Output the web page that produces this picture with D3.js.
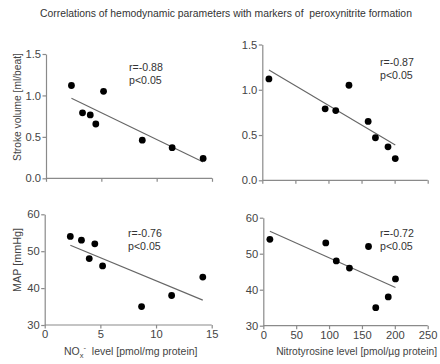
<!DOCTYPE html>
<html><head><meta charset="utf-8">
<script src="https://cdn.jsdelivr.net/npm/d3@7"></script>
<style>
body{margin:0;background:#fff;}
svg{display:block;font-family:"Liberation Sans",Arial,sans-serif;}
</style></head>
<body>
<svg id="c" width="440" height="364"></svg>
<script>
const noxLevel = [2.3, 3.3, 4.0, 4.5, 5.2, 8.7, 11.4, 14.2];
const strokeVolumeNox = [1.12, 0.79, 0.765, 0.655, 1.05, 0.46, 0.37, 0.24];
const mapNox = [54, 53, 48, 52, 46, 35, 38, 43];
const nitrotyrosine = [10, 95, 111, 131, 160, 171, 190, 201];
const strokeVolumeNt = [1.12, 0.79, 0.77, 1.05, 0.65, 0.47, 0.37, 0.24];
const mapNt = [54, 53, 48, 46, 52, 35, 38, 43];
const noxTicks = [0, 5, 10, 15];
const ntTicks = [0, 50, 100, 150, 200, 250];
const svTicks = [0.0, 0.5, 1.0, 1.5];
const mapTicks = [30, 40, 50, 60];
const stats = [["r=-0.88","p<0.05"],["r=-0.87","p<0.05"],["r=-0.76","p<0.05"],["r=-0.72","p<0.05"]];

const svg = d3.select("#c");
const axisCol = "#8a8a8a", textCol = "#444";

// scale font so a text fills a target width
function fitWidth(sel, target){
  const fs = +sel.attr("font-size");
  const w = sel.node().getComputedTextLength();
  if (w > 0) sel.attr("font-size", (fs * target / w).toFixed(2));
}

const title = svg.append("text").attr("x", 40).attr("y", 17)
  .attr("font-size", 10.3).attr("fill", "#333")
  .text("Correlations of hemodynamic parameters with markers of\u00a0 peroxynitrite formation");
fitWidth(title, 372);

const panels = [
  {xs: noxLevel, ys: strokeVolumeNox, xd:[0,15], yd:[0,1.5], xr:[46,212], yr:[178.3,54], xt:noxTicks, yt:svTicks, yfmt:d3.format(".1f"), showX:false, st:stats[0], sx:129, sy:71},
  {xs: nitrotyrosine, ys: strokeVolumeNt, xd:[0,250], yd:[0,1.5], xr:[262.3,427.7], yr:[180.3,44.5], xt:ntTicks, yt:svTicks, yfmt:d3.format(".1f"), showX:false, st:stats[1], sx:380, sy:66},
  {xs: noxLevel, ys: mapNox, xd:[0,15], yd:[30,60], xr:[44.7,211.7], yr:[325,214.3], xt:noxTicks, yt:mapTicks, yfmt:d3.format("d"), showX:true, st:stats[2], sx:128, sy:237},
  {xs: nitrotyrosine, ys: mapNt, xd:[0,250], yd:[30,60], xr:[263.3,427.7], yr:[325.7,217.7], xt:ntTicks, yt:mapTicks, yfmt:d3.format("d"), showX:true, st:stats[3], sx:380, sy:237}
];

function styleAxis(g){
  g.selectAll("path").attr("stroke", axisCol).attr("stroke-width", 1.2);
  g.selectAll("line").attr("stroke", axisCol).attr("stroke-width", 1.2);
  g.selectAll("text").attr("fill", textCol).attr("font-size", 11.2).attr("font-family","Liberation Sans, Arial, sans-serif");
}

panels.forEach(p => {
  const x = d3.scaleLinear().domain(p.xd).range(p.xr);
  const y = d3.scaleLinear().domain(p.yd).range(p.yr);
  const gx = svg.append("g").attr("transform", `translate(0,${p.yr[0]})`)
    .call(d3.axisBottom(x).tickValues(p.xt).tickSize(3.5).tickSizeOuter(0).tickPadding(2)
      .tickFormat(p.showX ? d3.format("d") : () => ""));
  styleAxis(gx);
  const gy = svg.append("g").attr("transform", `translate(${p.xr[0]},0)`)
    .call(d3.axisLeft(y).tickValues(p.yt).tickSize(3.5).tickSizeOuter(0).tickPadding(1.5).tickFormat(p.yfmt));
  styleAxis(gy);
  gx.select(".domain").attr("d", `M${p.xr[0]},0H${p.xr[1]}`);

  // least-squares fit line over data range
  const n = p.xs.length;
  const mx = d3.mean(p.xs), my = d3.mean(p.ys);
  let sxy = 0, sxx = 0;
  for (let i = 0; i < n; i++){ sxy += (p.xs[i]-mx)*(p.ys[i]-my); sxx += (p.xs[i]-mx)**2; }
  const b = sxy/sxx, a = my - b*mx;
  const x0 = d3.min(p.xs), x1 = d3.max(p.xs);
  svg.append("line").attr("x1", x(x0)).attr("y1", y(a+b*x0)).attr("x2", x(x1)).attr("y2", y(a+b*x1))
    .attr("stroke", "#666").attr("stroke-width", 1.1);

  svg.append("g").selectAll("circle").data(p.xs.map((v,i)=>[v,p.ys[i]])).join("circle")
    .attr("cx", d=>x(d[0])).attr("cy", d=>y(d[1])).attr("r", 3.4).attr("fill", "#000");

  const t = svg.append("text").attr("font-size", 10.6).attr("fill", "#333");
  t.append("tspan").attr("x", p.sx).attr("y", p.sy).text(p.st[0]);
  t.append("tspan").attr("x", p.sx).attr("y", p.sy+12.5).text(p.st[1]);
});

// y axis labels
const svl = svg.append("text").attr("transform","translate(21,107) rotate(-90)").attr("text-anchor","middle")
  .attr("font-size", 10.5).attr("fill", textCol).text("Stroke volume [ml/beat]");
fitWidth(svl, 108);
const mapl = svg.append("text").attr("transform","translate(21,260) rotate(-90)").attr("text-anchor","middle")
  .attr("font-size", 10.5).attr("fill", textCol).text("MAP [mmHg]");
fitWidth(mapl, 64);

// x axis labels
const nl = svg.append("text").attr("x", 64).attr("y", 355)
  .attr("font-size", 10.5).attr("fill", textCol);
nl.append("tspan").text("NO");
nl.append("tspan").attr("font-size", 7.5).attr("dy", 3).text("x");
nl.append("tspan").attr("font-size", 7.5).attr("dy", -8).text("-");
nl.append("tspan").attr("dy", 5).text("\u00a0 level [pmol/mg protein]");

const ntl = svg.append("text").attr("x", 437).attr("y", 355).attr("text-anchor","end")
  .attr("font-size", 10.5).attr("fill", textCol).text("Nitrotyrosine level [pmol/\u00b5g protein]");
fitWidth(ntl, 161);
</script>
</body></html>
